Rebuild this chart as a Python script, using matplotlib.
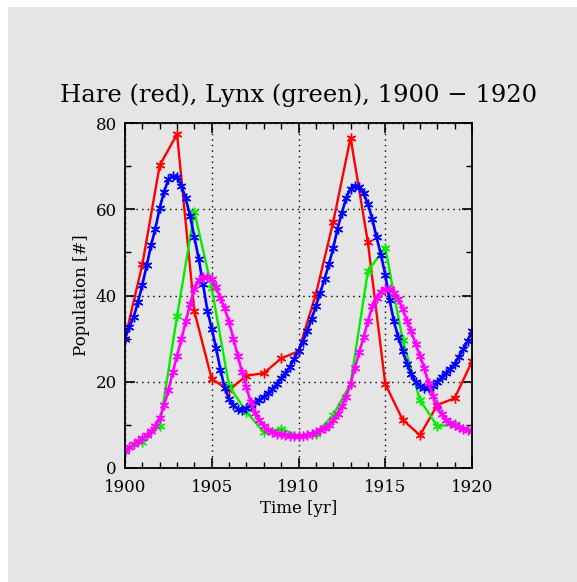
import numpy as np
import matplotlib
matplotlib.use("Agg")
import matplotlib.pyplot as plt
from matplotlib.patches import Rectangle
from matplotlib.ticker import MultipleLocator

# observed data
years = np.arange(1900, 1921)
hare = [30, 47.2, 70.2, 77.4, 36.3, 20.6, 18.1, 21.4, 22, 25.4, 27.1,
        40.3, 57, 76.6, 52.3, 19.5, 11.2, 7.6, 14.6, 16.2, 24.7]
lynx = [4, 6.1, 9.8, 35.2, 59.4, 41.7, 19, 13, 8.3, 9.1, 7.4,
        8, 12.3, 19.5, 45.7, 51.1, 29.7, 15.8, 9.7, 10.1, 8.6]

t_model = np.arange(0, 81) / 4 + 1900
hare_model = [30.0, 32.7, 35.0, 38.5, 42.5, 47.0, 51.6, 55.5, 60.3, 64.0,
              66.9, 67.7, 67.4, 65.5, 62.5, 58.5, 53.5, 48.5, 42.6, 36.5,
              32.3, 27.8, 22.8, 18.5, 16.0, 14.5, 13.7, 13.4, 13.8, 14.5,
              15.2, 15.8, 16.5, 17.3, 18.3, 19.5, 20.8, 22.0, 23.5, 25.3,
              27.2, 29.3, 31.7, 34.5, 37.5, 40.6, 43.8, 47.2, 51.0, 55.5,
              59.2, 62.6, 64.8, 65.5, 65.2, 63.8, 61.2, 57.8, 53.5, 49.5,
              44.8, 39.0, 34.0, 30.4, 27.2, 24.2, 21.7, 20.0, 19.0, 18.5,
              18.5, 19.0, 20.0, 21.1, 22.0, 23.0, 24.2, 25.8, 27.5, 29.5,
              31.7]
lynx_model = [4.0, 4.8, 5.5, 6.2, 6.9, 7.6, 8.6, 9.8, 11.5, 14.5,
              18.0, 22.2, 26.0, 29.8, 34.0, 38.0, 41.6, 43.5, 44.3, 44.4,
              43.8, 42.0, 39.4, 37.0, 33.8, 30.0, 26.0, 22.2, 18.7, 15.2,
              12.8, 11.2, 9.8, 8.8, 8.3, 8.0, 7.8, 7.6, 7.5, 7.4,
              7.4, 7.5, 7.7, 8.0, 8.3, 8.7, 9.2, 10.0, 11.1, 12.6,
              14.3, 16.5, 19.5, 23.3, 26.8, 30.3, 34.0, 37.5, 39.5, 40.9,
              41.5, 41.4, 40.6, 39.3, 36.9, 34.2, 31.7, 28.8, 26.0, 23.2,
              19.6, 16.8, 14.3, 12.5, 11.2, 10.4, 9.9, 9.4, 9.1, 8.8,
              8.6]

bg = "#e5e5e5"
plt.rcParams.update({"font.family": "DejaVu Serif"})

fig = plt.figure(figsize=(5.77, 5.82), dpi=100)
fig.patch.set_facecolor("white")
fig.patches.append(Rectangle((8 / 577, 0), 1, 1 - 7 / 582, transform=fig.transFigure,
                             facecolor=bg, edgecolor="none", zorder=-10))

ax = fig.add_axes([125 / 577, 1 - 468 / 582, 347 / 577, 345 / 582])
ax.set_facecolor(bg)

ast = (6, 2, 0)
ax.plot(years, hare, color="#ff0000", lw=1.7, marker=ast, ms=7, mew=1.0)
ax.plot(years, lynx, color="#00ee00", lw=1.7, marker=ast, ms=7, mew=1.0)
ax.plot(t_model, hare_model, color="#0000ff", lw=1.9, marker=ast, ms=7, mew=1.0)
ax.plot(t_model, lynx_model, color="#ff00ff", lw=1.9, marker=ast, ms=7, mew=1.0)

ax.set_xlim(1900, 1920)
ax.set_ylim(0, 80)
ax.xaxis.set_major_locator(MultipleLocator(5))
ax.xaxis.set_minor_locator(MultipleLocator(1))
ax.yaxis.set_major_locator(MultipleLocator(20))
ax.yaxis.set_minor_locator(MultipleLocator(10))
ax.tick_params(which="both", direction="in", top=True, right=True, labelsize=12)
ax.tick_params(which="major", length=7, width=1.2)
ax.tick_params(which="minor", length=4, width=1.0)
ax.tick_params(axis="x", which="major", pad=8)
ax.tick_params(axis="y", which="major", pad=6)
ax.grid(True, which="major", color="black", linestyle=(0, (1, 3)), linewidth=1.0)
for s in ax.spines.values():
    s.set_linewidth(1.3)

ax.set_xlabel("Time [yr]", fontsize=12, labelpad=3)
ax.set_ylabel("Population [#]", fontsize=12)
ax.set_title("Hare (red), Lynx (green), 1900 \u2212 1920", fontsize=17.5, pad=15)

plt.savefig("out.png", dpi=100)
